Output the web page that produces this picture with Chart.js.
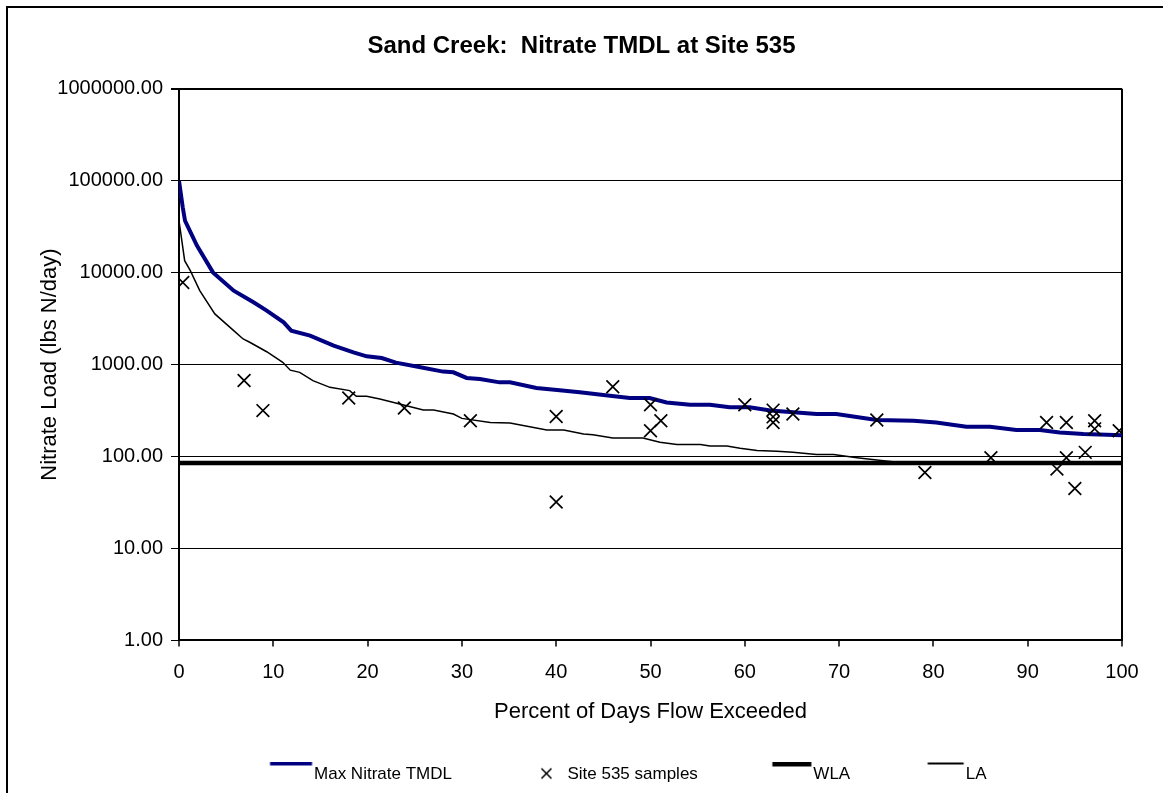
<!DOCTYPE html>
<html lang="en">
<head>
  <meta charset="UTF-8" />
  <title>Sand Creek: Nitrate TMDL at Site 535</title>
  <script src="https://cdn.jsdelivr.net/npm/chart.js@4.4.1/dist/chart.umd.min.js"></script>
  <style>
    html,body{margin:0;padding:0;background:#fff;overflow:hidden}
    #wrap{position:relative;width:1163px;height:793px}
    #frame{position:absolute;left:6px;top:6px;right:-10px;bottom:-10px;
      border-left:2px solid #000;border-top:2px solid #000;pointer-events:none}
    canvas{position:absolute;left:0;top:0}
  </style>
</head>
<body>
  <div id="wrap">
    <canvas id="chart" width="1163" height="793"></canvas>
    <div id="frame"></div>
  </div>

  <script>
    // max TMDL curve (percent of days exceeded, lbs N/day)
    const tmdlPct  = [0, 0.4, 0.64, 0.9, 1.9, 3.6, 5.8, 7.9, 9.3, 11.1, 11.9, 13.9, 16.4, 18.5, 19.9, 21.5, 23.0,
                      25.6, 28.0, 29.1, 30.5, 31.9, 34.0, 35.1, 37.9, 40.1, 42.5, 45.7, 47.8, 49.9, 51.7, 54.2,
                      56.3, 58.4, 60.5, 62.7, 67.6, 69.7, 74.0, 77.9, 80.3, 83.5, 86.0, 88.8, 91.3, 93.4, 95.9, 100];
    const tmdlLoad = [100000, 51200, 36700, 32300, 19700, 10070, 6370, 4760, 3870, 2880, 2340, 2070, 1610, 1360, 1230, 1180, 1050,
                      935, 839, 824, 716, 698, 641, 641, 557, 530, 499, 459, 433, 433, 388, 366,
                      366, 343, 343, 316, 290, 290, 250, 245, 235, 211, 211, 194, 194, 183, 176, 170];

    // load allocation curve
    const laPct  = [0, 0.3, 0.6, 1.2, 2.2, 3.8, 5.8, 6.8, 7.5, 9.3, 11.0, 11.8, 12.8, 14.2, 16.0, 18.1, 18.8, 19.9,
                    21.3, 23.4, 25.9, 27.0, 29.1, 30.0, 33.0, 35.1, 39.0, 40.8, 42.9, 43.9, 46.0, 49.2, 51.0,
                    52.8, 55.3, 56.3, 58.1, 59.5, 61.3, 63.4, 65.1, 67.6, 69.4, 71.9, 74.7, 77.0, 100];
    const laLoad = [36700, 22300, 13500, 10500, 6370, 3560, 2340, 1900, 1750, 1380, 1060, 870, 824, 670, 566, 521, 452, 452,
                    423, 372, 321, 321, 290, 260, 235, 232, 194, 194, 176, 173, 159, 159, 143,
                    135, 135, 130, 130, 123, 116, 114, 111, 105, 105, 97, 90, 85, 84];

    // waste load allocation
    const wlaPct  = [0, 100];
    const wlaLoad = [85, 85];

    // site 535 samples
    const samplePct  = [0.4, 6.9, 8.9, 18.0, 23.9, 30.9, 40.0, 40.0, 46.0, 50.0, 50.0, 51.1, 60.0, 63.0, 63.0, 63.0,
                        65.1, 74.0, 79.1, 86.1, 92.0, 93.1, 94.1, 94.1, 95.0, 96.1, 97.1, 97.1, 99.7];
    const sampleLoad = [7830, 670, 316, 433, 337, 245, 272, 32, 575, 366, 191, 245, 366, 320, 270, 235,
                        290, 250, 67, 97, 235, 73, 235, 97, 45, 111, 245, 200, 191];

    const yTicks = [1, 10, 100, 1000, 10000, 100000, 1000000];
    const legendNames = ['Max Nitrate TMDL', 'Site 535 samples', 'WLA', 'LA'];

    const NAVY = '#000080';
    const FONT = 'Arial, "Liberation Sans", sans-serif';
    const toXY = (xs, ys) => xs.map((x, i) => ({x, y: ys[i]}));

    // legend markers drawn as small canvases (line sits above text like the original)
    const BOX = 107;
    function icon(draw){
      const c = document.createElement('canvas');
      c.width = BOX + 16; c.height = 26;
      draw(c.getContext('2d'));
      return c;
    }
    const icons = [
      icon(g => { g.fillStyle = NAVY; g.fillRect(79.5, 0, 42, 4); }),
      icon(g => { g.strokeStyle = '#000'; g.lineWidth = 1.6; g.beginPath();
                  g.moveTo(97.5, 7); g.lineTo(107.5, 17); g.moveTo(107.5, 7); g.lineTo(97.5, 17); g.stroke(); }),
      icon(g => { g.fillStyle = '#000'; g.fillRect(82.5, 0, 39, 5); }),
      icon(g => { g.fillStyle = '#000'; g.fillRect(85.5, 1, 36, 2); })
    ];

    const legendNudge = {
      id: 'legendNudge',
      afterLayout(c){ c.legend.left += 11; c.legend.right += 11; }
    };

    Chart.defaults.font.family = FONT;
    Chart.defaults.color = '#000';

    new Chart(document.getElementById('chart'), {
      type: 'line',
      data: {
        datasets: [
          {label: legendNames[0], data: toXY(tmdlPct, tmdlLoad), borderColor: NAVY, borderWidth: 4,
           pointRadius: 0, tension: 0, order: 2},
          {label: legendNames[1], data: toXY(samplePct, sampleLoad), showLine: false, pointStyle: 'crossRot',
           pointRadius: 9, borderColor: '#000', borderWidth: 1.7, order: 0},
          {label: legendNames[2], data: toXY(wlaPct, wlaLoad), borderColor: '#000', borderWidth: 4.5,
           pointRadius: 0, order: 3},
          {label: legendNames[3], data: toXY(laPct, laLoad), borderColor: '#000', borderWidth: 1.5,
           pointRadius: 0, tension: 0, order: 1}
        ]
      },
      options: {
        responsive: false,
        animation: false,
        layout: {padding: 0},
        plugins: {
          title: {display: true, text: 'Sand Creek:  Nitrate TMDL at Site 535',
                  font: {size: 24, weight: 'bold'}, padding: {top: 32, bottom: 28}},
          legend: {
            position: 'bottom',
            // blank title only gives the raised line markers room above the text
            title: {display: true, text: ' ', font: {size: 1}, padding: {top: 0, bottom: 11}},
            labels: {
              font: {size: 17}, padding: 0, usePointStyle: true, pointStyleWidth: BOX,
              generateLabels: () => legendNames.map((t, i) => ({
                text: t, pointStyle: icons[i], datasetIndex: i, hidden: false,
                fontColor: '#000', lineWidth: 0, strokeStyle: 'transparent', fillStyle: 'transparent'
              }))
            }
          },
          tooltip: {enabled: false}
        },
        scales: {
          x: {
            type: 'linear', min: 0, max: 100,
            ticks: {stepSize: 10, font: {size: 20}, padding: 14, maxRotation: 0},
            grid: {
              color: c => (c.tick && c.tick.value === 100) ? '#000' : 'rgba(0,0,0,0)',
              lineWidth: 2, tickColor: '#000', tickLength: 6, tickWidth: 1.5
            },
            border: {display: true, color: '#000', width: 2},
            title: {display: true, text: 'Percent of Days Flow Exceeded', font: {size: 22},
                    padding: {top: 0, bottom: 29}}
          },
          y: {
            type: 'logarithmic', min: 1, max: 1000000,
            afterBuildTicks: s => { s.ticks = yTicks.map(v => ({value: v})); },
            afterFit: s => { s.width = 179; },
            ticks: {font: {size: 20}, padding: 8, callback: v => Number(v).toFixed(2)},
            grid: {color: '#000', lineWidth: c => (c.tick && c.tick.value === 1000000) ? 2 : 1,
                   tickLength: 8, tickColor: '#000'},
            border: {display: true, color: '#000', width: 2},
            title: {display: true, text: 'Nitrate Load (lbs N/day)', font: {size: 22},
                    padding: {top: 37, bottom: 2}}
          },
          y2: {
            position: 'right', display: true,
            grid: {display: false}, border: {display: false}, ticks: {display: false},
            afterFit: s => { s.width = 41; }
          }
        }
      },
      plugins: [legendNudge]
    });
  </script>
</body>
</html>
